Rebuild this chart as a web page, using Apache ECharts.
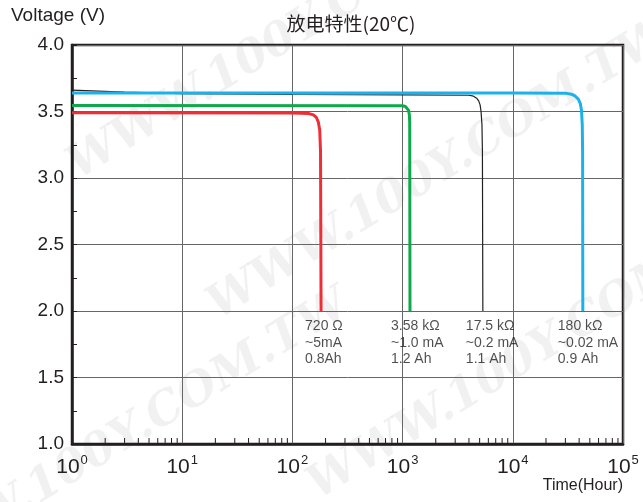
<!DOCTYPE html>
<html><head><meta charset="utf-8">
<script src="https://cdn.jsdelivr.net/npm/echarts@6/dist/echarts.min.js"></script>
<style>html,body{margin:0;padding:0;background:#fff}#c{width:643px;height:502px}</style>
</head><body><div id="c"></div>
<script>
// ---- data ----
const xTickExponents = [0, 1, 2, 3, 4, 5];
const yTicks = [1.0, 1.5, 2.0, 2.5, 3.0, 3.5, 4.0];
const xMinorTicks = [2,3,4,5,6,7,8,9, 20,30,40,50,60,70,80,90, 200,300,400,500,600,700,800,900,
  2000,3000,4000,5000,6000,7000,8000,9000, 20000,30000,40000,50000,60000,70000,80000,90000];

const curve720 = [[1,3.49],[100,3.488],[140,3.485],[155,3.475],[165,3.455],[172,3.42],[177,3.36],[180,3.2],[182,2.0]];
const curve358k = [[1,3.545],[1000,3.543],[1060,3.538],[1100,3.53],[1130,3.51],[1150,3.48],[1160,3.42],[1167,2.0]];
const curve175k = [[1,3.66],[3,3.645],[10,3.635],[100,3.628],[1000,3.625],[4000,3.622],[4400,3.615],[4700,3.6],[4900,3.58],[5050,3.55],[5150,3.5],[5250,3.4],[5300,3.2],[5350,2.0]];
const curve180k = [[1,3.64],[10000,3.64],[30000,3.638],[34000,3.63],[37000,3.615],[39500,3.59],[41000,3.56],[42000,3.51],[42700,3.4],[43000,3.2],[43200,2.0]];

const annoLabels = [
  ['720 Ω', '~5mA', '0.8Ah'],
  ['3.58 kΩ', '~1.0 mA', '1.2 Ah'],
  ['17.5 kΩ', '~0.2 mA', '1.1 Ah'],
  ['180 kΩ', '~0.02 mA', '0.9 Ah']
];
const annoAnchors = [[182, 2.0], [1167, 2.0], [5350, 2.0], [43200, 2.0]];

const titleText = '放电特性(20℃)';
const yName = 'Voltage (V)';
const xName = 'Time(Hour)';
const watermark = 'WWW.100Y.COM.TW';

// ---- chart ----
const FONT = 'Liberation Sans, Arial, sans-serif';
const INK = '#231f20';
const chart = echarts.init(document.getElementById('c'), null, {renderer: 'canvas'});

const annoOffsets = [[-16, 7], [-19, 7], [-17, 7], [-25, 7]];

const wm = [
  {x: 60, y: 150, r: 0.55},
  {x: 200, y: 290, r: 0.55},
  {x: 300, y: 470, r: 0.55},
  {x: -120, y: 560, r: 0.55}
].map(p => ({
  type: 'text', x: p.x, y: p.y, rotation: p.r, silent: true, z: -10,
  style: {text: watermark, fontSize: 46, fontFamily: 'DejaVu Serif, serif', fontWeight: 'bold', fontStyle: 'italic', fill: 'rgba(0,0,0,0.055)'}
}));

const option = {
  animation: false,
  backgroundColor: '#fff',
  title: {
    text: titleText, left: 346, top: 9, textAlign: 'center',
    textStyle: {fontSize: 19, fontWeight: 'normal', color: INK, fontFamily: 'Noto Sans CJK SC, sans-serif'}
  },
  graphic: wm.concat([
    {type: 'text', left: 11, top: 6, style: {text: yName, fontSize: 19, fontFamily: FONT, fill: INK}},
    {type: 'text', right: 20, top: 478, style: {text: xName, fontSize: 16, fontFamily: FONT, fill: INK}}
  ]),
  grid: {left: 72, right: 20, top: 45, bottom: 58, show: true, borderColor: INK, borderWidth: 2.5, backgroundColor: 'transparent'},
  xAxis: {
    type: 'log', logBase: 10, min: 1, max: 100000,
    axisLine: {show: true, lineStyle: {color: INK, width: 2.5}},
    axisTick: {show: false},
    splitLine: {show: true, lineStyle: {color: '#666', width: 1}},
    axisLabel: {
      margin: 10,
      formatter: v => {
        const e = Math.round(Math.log10(v));
        return xTickExponents.includes(e) ? '{b|10}{s|' + e + '}' : '';
      },
      rich: {
        b: {fontSize: 21, fontFamily: FONT, color: INK, lineHeight: 24, verticalAlign: 'bottom'},
        s: {fontSize: 13, fontFamily: FONT, color: INK, lineHeight: 24, verticalAlign: 'top', padding: [0, 0, 0, 1]}
      }
    }
  },
  yAxis: {
    type: 'value', min: 1, max: 4, interval: 0.5,
    axisLine: {show: true, lineStyle: {color: INK, width: 2.5}},
    axisTick: {show: true, inside: true, length: 5, lineStyle: {color: INK}},
    minorTick: {show: true, splitNumber: 2, length: 5, lineStyle: {color: INK, width: 1}},
    splitLine: {show: true, lineStyle: {color: '#666', width: 1}},
    axisLabel: {
      margin: 8, fontSize: 19, fontFamily: FONT, color: INK,
      formatter: v => (yTicks.some(t => Math.abs(t - v) < 1e-9) ? v.toFixed(1) : '')
    }
  },
  series: [
    {type: 'custom', silent: true, z: 1,
      data: xMinorTicks.map(v => [v, 1.0]),
      renderItem: (params, api) => {
        const p = api.coord([api.value(0), api.value(1)]);
        return {type: 'line', shape: {x1: p[0], y1: p[1], x2: p[0], y2: p[1] - 6}, style: {stroke: INK, lineWidth: 1}};
      }
    },
    {type: 'line', data: curve175k, showSymbol: false, z: 2, lineStyle: {color: INK, width: 1.2}},
    {type: 'line', data: curve720, showSymbol: false, z: 3, lineStyle: {color: '#ee2f36', width: 3}},
    {type: 'line', data: curve358k, showSymbol: false, z: 3, lineStyle: {color: '#0fa94b', width: 3}},
    {type: 'line', data: curve180k, showSymbol: false, z: 4, lineStyle: {color: '#1db1ea', width: 3}},
    {type: 'scatter', symbolSize: 0, silent: true, z: 5,
      data: annoAnchors.map((a, i) => ({
        value: a,
        label: {
          show: true, position: annoOffsets[i], align: 'left', verticalAlign: 'top',
          formatter: annoLabels[i].join('\n'), fontSize: 14, lineHeight: 16.5,
          fontFamily: FONT, color: INK
        }
      }))
    }
  ]
};
chart.setOption(option);
</script></body></html>
